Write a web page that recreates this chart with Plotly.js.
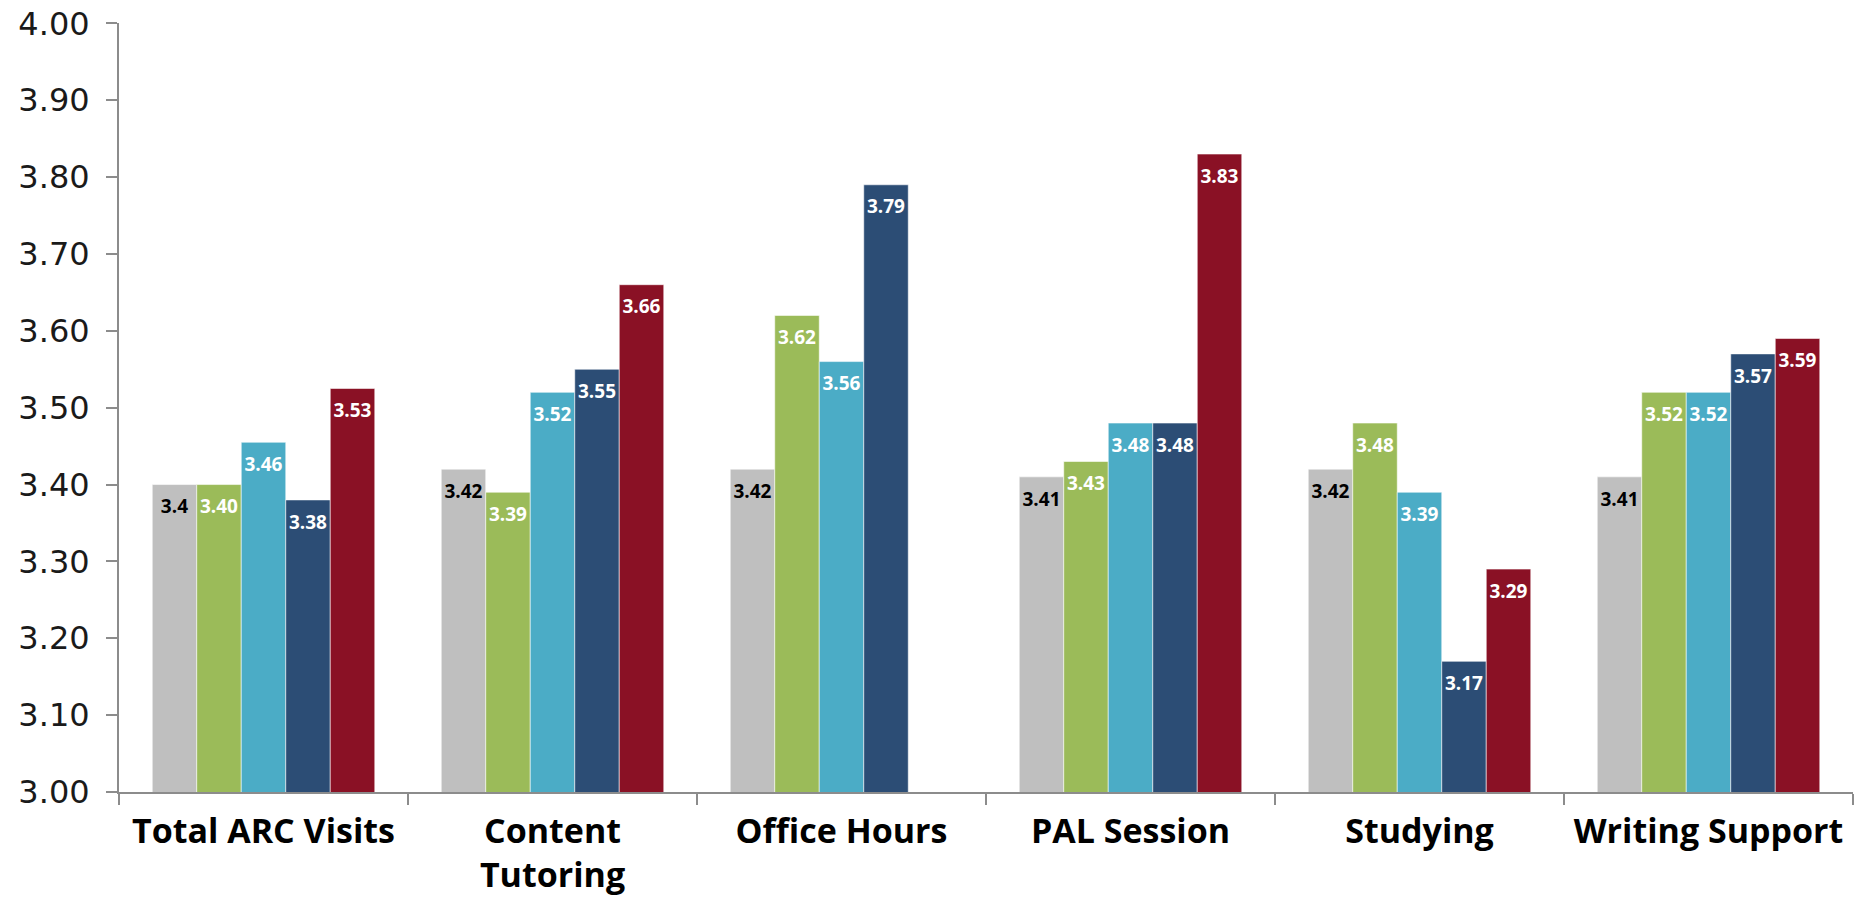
<!DOCTYPE html>
<html>
<head>
<meta charset="utf-8">
<script src="https://cdn.plot.ly/plotly-3.0.1.min.js"></script>
<style>
  html, body { margin: 0; padding: 0; background: #ffffff; }
  #chart { width: 1860px; height: 901px; }
</style>
</head>
<body>
<div id="chart"></div>
<script>
// Categories (tick labels)
const categories = ["Total ARC Visits", "Content<br>Tutoring", "Office Hours", "PAL Session", "Studying", "Writing Support"];

// Series values
const series1Values = [3.40, 3.42, 3.42, 3.41, 3.42, 3.41];
const series2Values = [3.40, 3.39, 3.62, 3.43, 3.48, 3.52];
const series3Values = [3.455, 3.52, 3.56, 3.48, 3.39, 3.52];
const series4Values = [3.38, 3.55, 3.79, 3.48, 3.17, 3.57];
const series5Values = [3.525, 3.66, null, 3.83, 3.29, 3.59];

// Data labels as printed on the chart
const series1Labels = ["3.4", "3.42", "3.42", "3.41", "3.42", "3.41"];
const series2Labels = ["3.40", "3.39", "3.62", "3.43", "3.48", "3.52"];
const series3Labels = ["3.46", "3.52", "3.56", "3.48", "3.39", "3.52"];
const series4Labels = ["3.38", "3.55", "3.79", "3.48", "3.17", "3.57"];
const series5Labels = ["3.53", "3.66", "", "3.83", "3.29", "3.59"];

const seriesNames = ["Series 1", "Series 2", "Series 3", "Series 4", "Series 5"];

// Y axis tick values
const yTickValues = [3.0, 3.1, 3.2, 3.3, 3.4, 3.5, 3.6, 3.7, 3.8, 3.9, 4.0];

const colors = ["#BFBFBF", "#9BBB59", "#4BACC6", "#2C4D75", "#8A1125"];
const labelColors = ["#000000", "#ffffff", "#ffffff", "#ffffff", "#ffffff"];

const allValues = [series1Values, series2Values, series3Values, series4Values, series5Values];
const allLabels = [series1Labels, series2Labels, series3Labels, series4Labels, series5Labels];

const traces = allValues.map((vals, i) => ({
  type: "bar",
  name: seriesNames[i],
  x: categories,
  y: vals,
  text: allLabels[i],
  texttemplate: '<span style="font-size:1px">&nbsp;</span><br>%{text}',
  textposition: "inside",
  insidetextanchor: "end",
  constraintext: "none",
  textangle: 0,
  cliponaxis: false,
  textfont: { family: "Open Sans, sans-serif", size: 19, color: labelColors[i], weight: 700 },
  marker: { color: colors[i], line: { color: "rgba(255,255,255,0.55)", width: 1 } },
  hoverinfo: "x+y"
}));

const layout = {
  width: 1860,
  height: 901,
  margin: { l: 119, r: 7, t: 23, b: 109 },
  paper_bgcolor: "#ffffff",
  plot_bgcolor: "#ffffff",
  barmode: "group",
  bargap: 0.23,
  bargroupgap: 0,
  showlegend: false,
  font: { family: "Open Sans, sans-serif", color: "#000000" },
  xaxis: {
    type: "category",
    showgrid: false,
    showline: true,
    linecolor: "#8C8C8C",
    linewidth: 2,
    ticks: "outside",
    tickson: "boundaries",
    ticklen: 11,
    tickwidth: 2,
    tickcolor: "#8C8C8C",
    ticklabelstandoff: 8,
    ticklabeloverflow: "allow",
    tickfont: { family: "Open Sans, sans-serif", size: 34, color: "#000000", weight: 700 },
    zeroline: false
  },
  yaxis: {
    range: [3, 4.0005],
    tickvals: yTickValues,
    tickformat: ".2f",
    showgrid: false,
    zeroline: false,
    showline: true,
    linecolor: "#8C8C8C",
    linewidth: 2,
    ticks: "outside",
    ticklen: 11,
    tickwidth: 2,
    tickcolor: "#8C8C8C",
    ticklabelstandoff: 10,
    ticklabeloverflow: "allow",
    tickfont: { family: "DejaVu Sans, sans-serif", size: 32, color: "#1a1a1a" }
  }
};

Plotly.newPlot("chart", traces, layout, { displayModeBar: false, staticPlot: true });
</script>
</body>
</html>
